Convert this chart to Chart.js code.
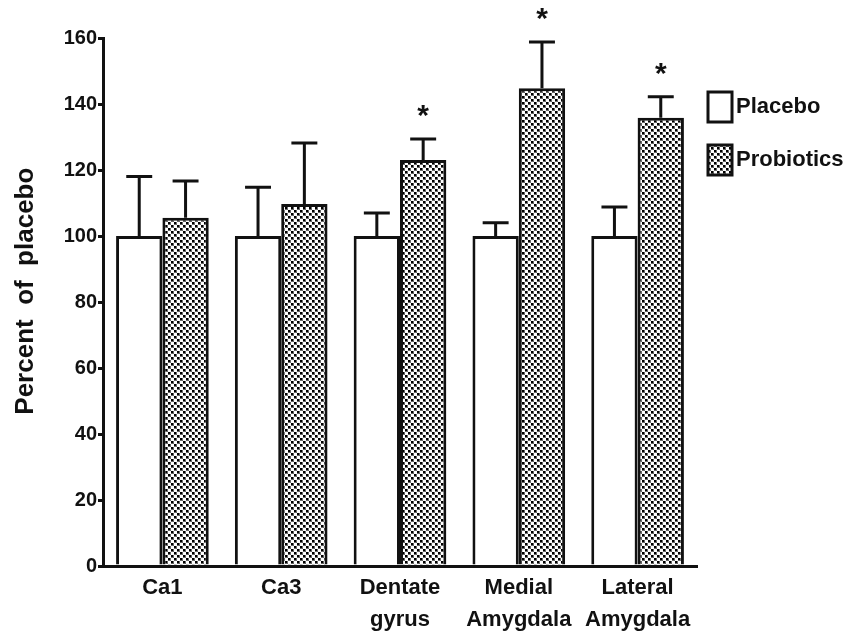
<!DOCTYPE html>
<html>
<head>
<meta charset="utf-8">
<script src="https://cdn.jsdelivr.net/npm/chart.js@4.4.1/dist/chart.umd.min.js"></script>
<style>
  html, body { margin: 0; padding: 0; background: #ffffff; }
  #wrap { width: 850px; height: 642px; position: relative; }
</style>
</head>
<body>
<div id="wrap"><canvas id="c" width="850" height="642"></canvas></div>
<script>
const categories = [["Ca1"], ["Ca3"], ["Dentate", "gyrus"], ["Medial", "Amygdala"], ["Lateral", "Amygdala"]];
const seriesNames = ["Placebo", "Probiotics"];
const placeboValues = [100, 100, 100, 100, 100];
const placeboErrors = [18, 14.8, 7, 4, 8.8];
const probioticsValues = [105.5, 109.7, 123, 144.8, 135.8];
const probioticsErrors = [11.2, 18.5, 6.4, 14, 6.4];
const significant = [false, false, true, true, true];
const yTicks = [0, 20, 40, 60, 80, 100, 120, 140, 160];

const sans = "'Liberation Sans', Arial, Helvetica, sans-serif";

function makePattern() {
  const t = document.createElement('canvas');
  t.width = 6; t.height = 6;
  const g = t.getContext('2d');
  g.fillStyle = '#ffffff';
  g.fillRect(0, 0, 6, 6);
  g.fillStyle = '#666666';
  g.fillRect(0, 0, 3, 3);
  g.fillRect(3, 3, 3, 3);
  g.fillStyle = '#000000';
  g.fillRect(0, 0, 2, 2);
  g.fillRect(3, 3, 2, 2);
  return g.createPattern(t, 'repeat');
}
const checker = makePattern();

const errorBarPlugin = {
  id: 'errorBars',
  afterDatasetsDraw(chart) {
    const ctx = chart.ctx;
    const yScale = chart.scales.y;
    const errs = [placeboErrors, probioticsErrors];
    const vals = [placeboValues, probioticsValues];
    ctx.save();
    ctx.strokeStyle = '#111';
    ctx.lineWidth = 3;
    ctx.lineCap = 'butt';
    for (let d = 0; d < 2; d++) {
      const meta = chart.getDatasetMeta(d);
      meta.data.forEach((bar, i) => {
        const x = bar.x;
        const yTop = yScale.getPixelForValue(vals[d][i]);
        const yErr = yScale.getPixelForValue(vals[d][i] + errs[d][i]);
        const half = bar.width * 0.28;
        ctx.beginPath();
        ctx.moveTo(x, yTop);
        ctx.lineTo(x, yErr);
        ctx.moveTo(x - half, yErr);
        ctx.lineTo(x + half, yErr);
        ctx.stroke();
        if (d === 1 && significant[i]) {
          ctx.fillStyle = '#111';
          ctx.font = "bold 30px " + sans;
          ctx.textAlign = 'center';
          ctx.textBaseline = 'middle';
          ctx.fillText('*', x, yErr - 22);
        }
      });
    }
    ctx.restore();
  }
};

const legendPlugin = {
  id: 'sideLegend',
  afterDraw(chart) {
    const ctx = chart.ctx;
    const area = chart.chartArea;
    const x0 = area.right + 11;
    const y0 = area.top + 54;
    const step = 53;
    ctx.save();
    chart.data.datasets.forEach((ds, i) => {
      const y = y0 + i * step;
      ctx.fillStyle = ds.backgroundColor;
      ctx.fillRect(x0, y, 24, 30);
      ctx.strokeStyle = '#111';
      ctx.lineWidth = 3;
      ctx.strokeRect(x0, y, 24, 30);
      ctx.fillStyle = '#111';
      ctx.font = "bold 22px " + sans;
      ctx.textAlign = 'left';
      ctx.textBaseline = 'middle';
      ctx.fillText(ds.label, x0 + 28, y + 15);
    });
    ctx.restore();
  }
};

new Chart(document.getElementById('c'), {
  type: 'bar',
  data: {
    labels: categories,
    datasets: [
      {
        label: seriesNames[0],
        data: placeboValues,
        backgroundColor: '#ffffff',
        borderColor: '#111111',
        borderWidth: 3,
        borderSkipped: 'bottom'
      },
      {
        label: seriesNames[1],
        data: probioticsValues,
        backgroundColor: checker,
        borderColor: '#111111',
        borderWidth: 3,
        borderSkipped: 'bottom'
      }
    ]
  },
  options: {
    responsive: false,
    animation: false,
    devicePixelRatio: 1,
    layout: { padding: { top: 38, left: 0, right: 153, bottom: 0 } },
    datasets: { bar: { categoryPercentage: 0.78, barPercentage: 1.0 } },
    plugins: {
      tooltip: { enabled: false },
      legend: { display: false }
    },
    scales: {
      x: {
        offset: true,
        grid: { display: false, drawTicks: false },
        border: { display: true, color: '#111', width: 3 },
        ticks: {
          color: '#111',
          padding: 6,
          maxRotation: 0,
          autoSkip: false,
          font: { family: sans, size: 22, weight: 'bold', lineHeight: 1.45 }
        },
        afterFit(scale) { scale.height = 76; }
      },
      y: {
        min: 0,
        max: 160,
        afterBuildTicks(scale) { scale.ticks = yTicks.map(v => ({ value: v })); },
        grid: { drawOnChartArea: false, drawTicks: true, tickLength: 5, color: '#111', lineWidth: 3 },
        border: { display: true, color: '#111', width: 3 },
        ticks: {
          color: '#111',
          padding: 1,
          font: { family: sans, size: 20, weight: 'bold' }
        },
        title: {
          display: true,
          text: '   Percent  of  placebo',
          color: '#111',
          padding: { top: 10, bottom: 0 },
          font: { family: sans, size: 26, weight: 'bold' }
        },
        afterFit(scale) { scale.width = 103; }
      }
    }
  },
  plugins: [errorBarPlugin, legendPlugin]
});
</script>
</body>
</html>
